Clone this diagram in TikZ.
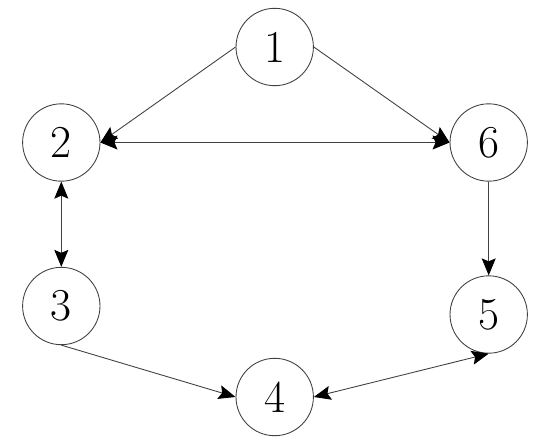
\documentclass[tikz,border=0pt]{standalone}
\usetikzlibrary{arrows.meta}
\begin{document}
\begin{tikzpicture}[x=0.02cm,y=-0.02cm,
  tip/.tip={Stealth[length=0.34cm,width=0.28cm,inset=0.06cm,color=black]},
  vertex/.style={circle,draw=black!75,line width=0.5pt,minimum size=1.548cm,inner sep=0pt,font=\fontsize{26}{26}\selectfont},
  edge/.style={draw=black!75,line width=0.5pt,-tip},
  bedge/.style={draw=black!75,line width=0.5pt,tip-tip}]
\useasboundingbox (0,0) rectangle (550,443);
\node[vertex] (n1) at (274.7,47) {1};
\node[vertex] (n2) at (61.3,142.5) {2};
\node[vertex] (n6) at (488.7,142.5) {6};
\node[vertex] (n3) at (61.3,306) {3};
\node[vertex] (n5) at (488.7,314.5) {5};
\node[vertex] (n4) at (274.7,397) {4};
\draw[edge] (n1.west) -- (n2.east);
\draw[edge] (n1.east) -- (n6.west);
\draw[bedge] (n2.east) -- (n6.west);
\draw[bedge] (n2.south) -- (n3.north);
\draw[edge] (n6.south) -- (n5.north);
\draw[edge] (n3.south) -- (n4.west);
\draw[bedge] (n4.east) -- (n5.south);
\end{tikzpicture}
\end{document}
